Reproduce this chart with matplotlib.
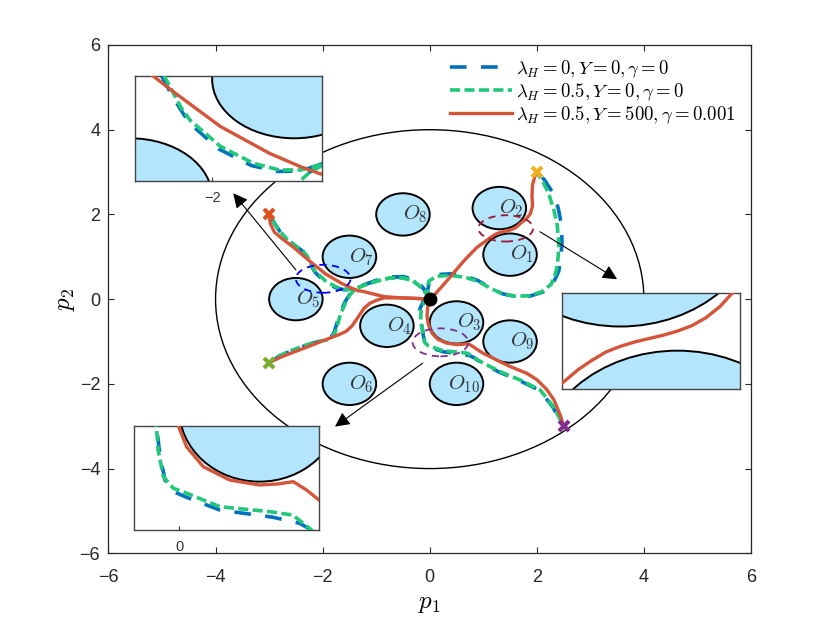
import matplotlib
matplotlib.use('Agg')
import matplotlib.pyplot as plt
from matplotlib.patches import Circle, Ellipse

plt.rcParams['mathtext.fontset'] = 'cm'
plt.rcParams['font.family'] = ['Liberation Sans', 'DejaVu Sans']

# obstacles (circles, radius 0.5)
obs_x = [1.5, 1.3, 0.5, -0.8, -2.5, -1.5, -1.5, -0.5, 1.5, 0.5]
obs_y = [1.05, 2.15, -0.55, -0.63, 0.0, -2.0, 1.0, 2.0, -1.0, -2.0]
obs_r = 0.5
obs_names = ['$O_1$', '$O_2$', '$O_3$', '$O_4$', '$O_5$',
             '$O_6$', '$O_7$', '$O_8$', '$O_9$', '$O_{10}$']
arena_r = 4.0

start = (0.0, 0.0)
goal_x = [2.0, -3.0, -3.0, 2.5]
goal_y = [3.0, 2.0, -1.5, -3.0]
goal_colors = ['#EDB120', '#D95319', '#77AC30', '#7E2F8E']

# lambda_H = 0, Y = 0, gamma = 0
blue_1 = [(0, 0), (-0.04, 0.2), (0.0, 0.45), (0.15, 0.58), (0.4, 0.6), (0.65, 0.55),
          (0.9, 0.44), (1.13, 0.27), (1.35, 0.13), (1.6, 0.06), (1.87, 0.07),
          (2.12, 0.17), (2.3, 0.36), (2.41, 0.66), (2.45, 1.0), (2.47, 1.35),
          (2.46, 1.75), (2.4, 2.15), (2.28, 2.55), (2.14, 2.82), (2.0, 3.0)]
blue_2 = [(0, 0), (-0.06, 0.16), (-0.17, 0.33), (-0.32, 0.47), (-0.5, 0.53), (-0.75, 0.52),
          (-1.0, 0.44), (-1.2, 0.35), (-1.34, 0.28), (-1.46, 0.225), (-1.6, 0.22),
          (-1.76, 0.27), (-1.96, 0.41), (-2.14, 0.63), (-2.2, 0.76), (-2.26, 0.9),
          (-2.31, 1.03), (-2.39, 1.15), (-2.52, 1.27), (-2.68, 1.43), (-2.8, 1.6),
          (-2.92, 1.83), (-3.0, 2.0)]
blue_3 = [(0, 0), (-0.06, 0.16), (-0.17, 0.33), (-0.32, 0.47), (-0.5, 0.53), (-0.75, 0.52),
          (-1.0, 0.44), (-1.2, 0.35), (-1.3, 0.3), (-1.41, 0.21), (-1.5, 0.1),
          (-1.58, -0.06), (-1.65, -0.26), (-1.7, -0.42), (-1.74, -0.6), (-1.79, -0.8),
          (-1.88, -0.95), (-2.1, -1.01), (-2.35, -1.11), (-2.6, -1.23), (-2.8, -1.34),
          (-3.0, -1.5)]
blue_4 = [(0, 0), (-0.12, -0.05), (-0.19, -0.25), (-0.19, -0.5), (-0.14, -0.67),
          (-0.12, -0.857), (-0.087, -1.039), (-0.03, -1.12), (0.047, -1.157),
          (0.254, -1.244), (0.585, -1.293), (0.751, -1.335), (0.823, -1.38),
          (1.0, -1.53), (1.31, -1.73), (1.69, -1.93), (2.06, -2.16), (2.3, -2.55),
          (2.45, -2.9), (2.5, -3.0)]

# lambda_H = 0.5, Y = 0, gamma = 0
green_1 = [(0, 0), (-0.05, 0.2), (-0.02, 0.42), (0.12, 0.54), (0.38, 0.56), (0.65, 0.52),
           (0.9, 0.42), (1.13, 0.26), (1.35, 0.13), (1.6, 0.07), (1.87, 0.08),
           (2.1, 0.18), (2.27, 0.35), (2.36, 0.65), (2.4, 1.0), (2.41, 1.35),
           (2.38, 1.75), (2.32, 2.1), (2.22, 2.5), (2.1, 2.8), (2.0, 3.0)]
green_2 = [(0, 0), (-0.07, 0.14), (-0.18, 0.3), (-0.32, 0.44), (-0.5, 0.5), (-0.75, 0.5),
           (-1.0, 0.42), (-1.2, 0.34), (-1.34, 0.275), (-1.46, 0.233), (-1.59, 0.233),
           (-1.75, 0.29), (-1.95, 0.432), (-2.135, 0.653), (-2.19, 0.76), (-2.24, 0.89),
           (-2.29, 1.02), (-2.37, 1.14), (-2.5, 1.25), (-2.66, 1.41), (-2.79, 1.59),
           (-2.92, 1.83), (-3.0, 2.0)]
green_3 = [(0, 0), (-0.07, 0.14), (-0.18, 0.3), (-0.32, 0.44), (-0.5, 0.5), (-0.75, 0.5),
           (-1.0, 0.42), (-1.2, 0.34), (-1.3, 0.29), (-1.4, 0.22), (-1.48, 0.12),
           (-1.56, -0.05), (-1.63, -0.25), (-1.68, -0.41), (-1.72, -0.6), (-1.77, -0.8),
           (-1.86, -0.95), (-2.1, -1.0), (-2.35, -1.1), (-2.6, -1.22), (-2.8, -1.33),
           (-3.0, -1.5)]
green_4 = [(0, 0), (-0.1, -0.05), (-0.16, -0.25), (-0.17, -0.5), (-0.14, -0.674),
           (-0.13, -0.834), (-0.097, -1.016), (-0.035, -1.095), (0.047, -1.129),
           (0.254, -1.221), (0.565, -1.255), (0.708, -1.278), (0.823, -1.38),
           (1.0, -1.51), (1.31, -1.71), (1.69, -1.91), (2.06, -2.14), (2.31, -2.54),
           (2.46, -2.9), (2.5, -3.0)]

# lambda_H = 0.5, Y = 500, gamma = 0.001
red_1 = [(0, 0), (0.1, 0.12), (0.25, 0.33), (0.44, 0.61), (0.65, 0.92), (0.88, 1.22),
         (1.1, 1.42), (1.15, 1.47), (1.2, 1.51), (1.25, 1.545), (1.3, 1.568), (1.35, 1.586),
         (1.4, 1.6), (1.45, 1.614), (1.5, 1.631), (1.55, 1.653), (1.6, 1.686), (1.65, 1.733),
         (1.69, 1.785), (1.8, 1.89), (1.88, 2.02), (1.92, 2.2), (1.91, 2.45), (1.92, 2.7),
         (1.96, 2.88), (2.0, 3.0)]
red_2 = [(0, 0), (-0.3, 0.02), (-0.55, 0.03), (-0.85, 0.06), (-1.05, 0.12), (-1.24, 0.18),
         (-1.34, 0.2), (-1.46, 0.26), (-1.65, 0.373), (-1.95, 0.6), (-2.236, 0.892),
         (-2.36, 1.025), (-2.55, 1.23), (-2.75, 1.42), (-2.9, 1.58), (-2.98, 1.79),
         (-3.0, 2.0)]
red_3 = [(0, 0), (-0.3, 0.02), (-0.55, 0.03), (-0.85, 0.03), (-0.98, -0.02), (-1.12, -0.1),
         (-1.23, -0.22), (-1.33, -0.41), (-1.45, -0.63), (-1.56, -0.76), (-1.7, -0.84),
         (-2.11, -1.04), (-2.35, -1.16), (-2.6, -1.28), (-2.8, -1.38), (-3.0, -1.5)]
red_4 = [(0, 0), (-0.04, -0.2), (-0.05, -0.4), (-0.03, -0.58), (-0.004, -0.67),
         (0.047, -0.812), (0.151, -0.948), (0.316, -1.039), (0.5, -1.073), (0.62, -1.065),
         (0.71, -1.05), (0.793, -1.107), (0.87, -1.175), (1.0, -1.28), (1.13, -1.36),
         (1.3, -1.47), (1.5, -1.59), (1.81, -1.75), (2.0, -1.9), (2.19, -2.14),
         (2.32, -2.38), (2.4, -2.62), (2.46, -2.82), (2.5, -3.0)]

blue_paths = [blue_1, blue_2, blue_3, blue_4]
green_paths = [green_1, green_2, green_3, green_4]
red_paths = [red_1, red_2, red_3, red_4]
legend_labels = [r'$\lambda_H = 0, Y = 0, \gamma = 0$',
                 r'$\lambda_H = 0.5, Y = 0, \gamma = 0$',
                 r'$\lambda_H = 0.5, Y = 500, \gamma = 0.001$']

# zoom regions (dashed ellipses): centre x, centre y, half width, half height
zoom_cx = [-1.99, 1.42, 0.2]
zoom_cy = [0.48, 1.67, -1.02]
zoom_a = [0.51, 0.51, 0.52]
zoom_b = [0.33, 0.31, 0.33]
zoom_colors = ['#0000FF', '#A2142F', '#7E2F8E']

# arrows from zoom region to inset
arrow_from = [(-2.5, 0.69), (2.06, 1.59), (-0.13, -1.51)]
arrow_to = [(-3.67, 2.5), (3.5, 0.47), (-1.77, -3.01)]

c_blue = '#0072BD'
c_green = '#22C87A'
c_red = '#D4553A'
c_fill = '#B3E5FC'


def draw_scene(ax, with_labels):
    ax.add_patch(Circle((0, 0), arena_r, fill=False, ec='k', lw=1.0, zorder=1))
    for i in range(len(obs_x)):
        ax.add_patch(Circle((obs_x[i], obs_y[i]), obs_r, fc=c_fill, ec='k', lw=1.4, zorder=2))
        if with_labels:
            dx = -0.15 if i == 9 else 0.0
            ax.text(obs_x[i] + dx, obs_y[i], obs_names[i], fontsize=15, ha='left', va='center',
                    color='#333333', zorder=2.5)
    for k, p in enumerate(blue_paths):
        x, y = zip(*p)
        ax.plot(x, y, color=c_blue, lw=2.6, dashes=(4.6, 4.0), dash_capstyle='butt',
                zorder=3, label=legend_labels[0] if k == 0 else None)
    for k, p in enumerate(green_paths):
        x, y = zip(*p)
        ax.plot(x, y, color=c_green, lw=2.6, dashes=(2.8, 1.2), dash_capstyle='butt',
                zorder=4, label=legend_labels[1] if k == 0 else None)
    for k, p in enumerate(red_paths):
        x, y = zip(*p)
        ax.plot(x, y, color=c_red, lw=2.4, solid_joinstyle='round',
                zorder=5, label=legend_labels[2] if k == 0 else None)


fig = plt.figure(figsize=(8.3, 6.23), dpi=100)
ax = fig.add_axes([0.1307, 0.1119, 0.7741, 0.8159])
draw_scene(ax, True)

for i in range(len(zoom_cx)):
    ax.add_patch(Ellipse((zoom_cx[i], zoom_cy[i]), 2 * zoom_a[i], 2 * zoom_b[i], fill=False,
                         ec=zoom_colors[i], lw=1.3, ls=(0, (4, 3)), zorder=6))
for s, t in zip(arrow_from, arrow_to):
    ax.annotate('', xy=t, xytext=s,
                arrowprops=dict(arrowstyle='-|>', color='k', lw=0.8, mutation_scale=22,
                                shrinkA=0, shrinkB=0), zorder=6)

ax.plot(start[0], start[1], 'o', color='k', ms=9, zorder=7)
for gx, gy, gc in zip(goal_x, goal_y, goal_colors):
    ax.plot(gx, gy, 'x', color=gc, ms=7, mew=3, zorder=7)

ax.set_xlim(-6, 6)
ax.set_ylim(-6, 6)
ax.set_xticks(range(-6, 7, 2))
ax.set_yticks(range(-6, 7, 2))
ax.tick_params(direction='in', top=True, right=True, length=4, width=0.8,
               labelsize=13, colors='#262626')
ax.tick_params(axis='x', pad=11)
ax.tick_params(axis='y', pad=6)
for sp in ax.spines.values():
    sp.set_color('#262626')
    sp.set_linewidth(0.9)
ax.set_xlabel('$p_1$', fontsize=18, labelpad=4)
ax.set_ylabel('$p_2$', fontsize=18, labelpad=2)

ax.legend(loc='upper left', bbox_to_anchor=(0.5315, 0.974), frameon=False, fontsize=13.5,
          handlelength=3.3, handletextpad=0.2, labelspacing=0.08, borderpad=0,
          borderaxespad=0)

# insets
inset_pos = [[0.1627, 0.7095, 0.2253, 0.1685],
             [0.6775, 0.3751, 0.2141, 0.1551],
             [0.1614, 0.1493, 0.2229, 0.1669]]
inset_xlim = [(-2.47, -1.33), (1.096, 1.72), (-0.28, 0.87)]
inset_ylim = [(0.14, 1.025), (1.39, 1.79), (-1.38, -0.67)]
inset_xticks = [[-2], [], [0]]
for pos, xl, yl, xt in zip(inset_pos, inset_xlim, inset_ylim, inset_xticks):
    iax = fig.add_axes(pos)
    draw_scene(iax, False)
    iax.set_xlim(xl)
    iax.set_ylim(yl)
    iax.set_xticks(xt)
    iax.set_yticks([])
    iax.tick_params(direction='in', length=3, width=0.8, labelsize=10.5, colors='#333333', pad=7)
    for sp in iax.spines.values():
        sp.set_color('#444444')
        sp.set_linewidth(1.0)

fig.savefig('out.png', dpi=100)
